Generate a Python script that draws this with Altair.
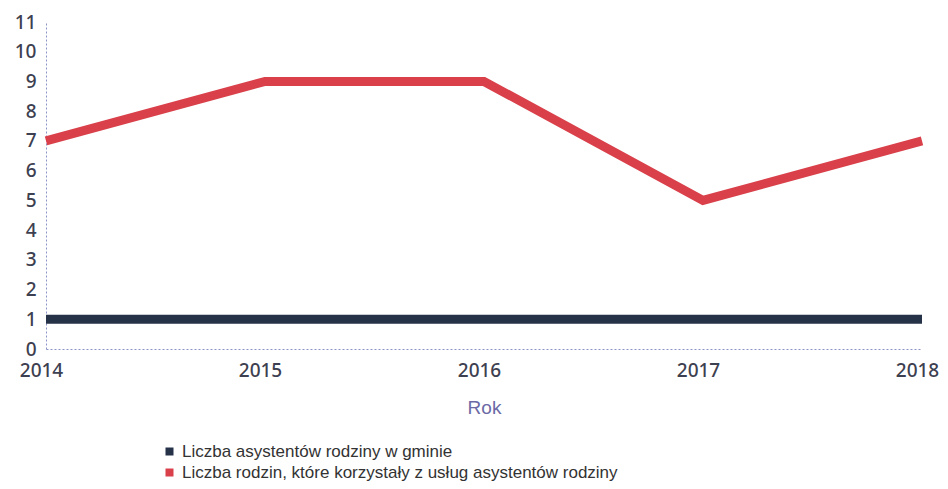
import altair as alt
import pandas as pd

years = [2014, 2015, 2016, 2017, 2018]
series_a_name = "Liczba asystentów rodziny w gminie"
series_b_name = "Liczba rodzin, które korzystały z usług asystentów rodziny"
series_a = [1, 1, 1, 1, 1]
series_b = [7, 9, 9, 5, 7]

rows = []
for y, v in zip(years, series_a):
    rows.append({"Rok": y, "value": v, "series": series_a_name})
for y, v in zip(years, series_b):
    rows.append({"Rok": y, "value": v, "series": series_b_name})
df = pd.DataFrame(rows)

font = "Noto Sans"

chart = alt.Chart(df).mark_line(strokeWidth=9, strokeCap="butt", strokeJoin="miter").encode(
    x=alt.X("Rok:Q", scale=alt.Scale(domain=[2014, 2018], nice=False, zero=False),
            axis=alt.Axis(values=years, format="d", title="Rok", grid=False, ticks=False,
                          domainColor="#8a93c8", domainDash=[2, 2], domainWidth=1,
                          labelFont=font, labelFontSize=19, labelColor="#3d4050", labelFontWeight=500,
                          labelFlush=False, labelOffset=-5, labelPadding=12,
                          titleFont="Liberation Sans", titleFontSize=19,
                          titleFontWeight="normal", titleColor="#6b6aa6", titlePadding=18)),
    y=alt.Y("value:Q", scale=alt.Scale(domain=[0, 11], nice=False),
            axis=alt.Axis(values=list(range(0, 12)), title=None, grid=False, ticks=False,
                          domainColor="#8a93c8", domainDash=[2, 2], domainWidth=1,
                          labelFont=font, labelFontSize=19, labelColor="#3d4050", labelFontWeight=500,
                          labelPadding=10)),
    color=alt.Color("series:N", sort=[series_a_name, series_b_name],
                    scale=alt.Scale(domain=[series_a_name, series_b_name], range=["#253248", "#d9404a"]),
                    legend=alt.Legend(title=None, orient="none", legendX=115, legendY=421,
                                      direction="vertical",
                                      symbolType="square", symbolSize=16, symbolStrokeWidth=4,
                                      labelFont="Liberation Sans", labelFontSize=17, labelColor="#333333",
                                      rowPadding=0, labelLimit=700)),
).properties(
    width=876, height=327,
    autosize=alt.AutoSizeParams(type="none"),
    padding={"left": 38, "top": 14, "right": 18, "bottom": 132},
).configure_view(stroke=None)

chart.save("out.html", embed_options={"renderer": "svg", "actions": False})
